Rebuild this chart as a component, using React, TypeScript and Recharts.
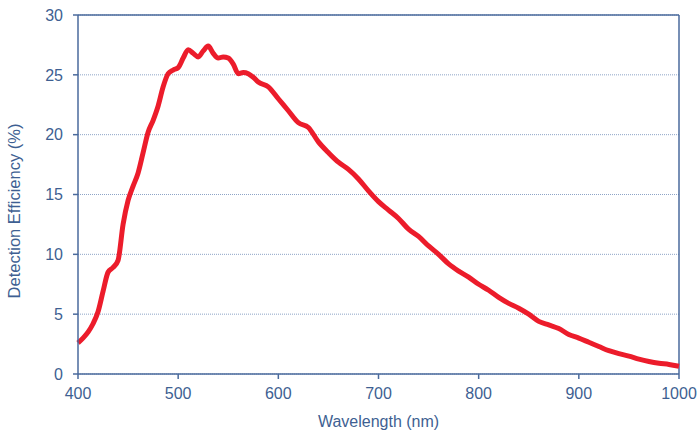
import React from 'react';
import { LineChart, Line, XAxis, YAxis, CartesianGrid, ReferenceLine } from 'recharts';

// values
const wavelengths = [
  400, 405, 410, 415, 420, 425, 430, 435, 440, 445, 450, 455, 460, 465, 470, 475, 480, 485, 490, 495,
  500, 505, 510, 515, 520, 525, 530, 535, 540, 545, 550, 555, 560, 565, 570, 575, 580, 590, 600, 610,
  620, 630, 640, 650, 660, 670, 680, 690, 700, 710, 720, 730, 740, 750, 760, 770, 780, 790, 800, 810,
  820, 830, 840, 850, 860, 870, 880, 890, 900, 910, 920, 930, 940, 950, 960, 970, 980, 990, 1000,
];
const efficiency = [
  2.6, 3.0, 3.5, 4.2, 5.2, 6.9, 8.5, 8.9, 9.5, 12.5, 14.5, 15.7, 16.8, 18.5, 20.2, 21.2, 22.4, 24.0, 25.1, 25.4,
  25.6, 26.4, 27.1, 26.8, 26.5, 27.0, 27.4, 26.8, 26.4, 26.5, 26.4, 25.9, 25.1, 25.2, 25.1, 24.8, 24.4, 24.0, 23.0, 22.0,
  21.0, 20.6, 19.4, 18.5, 17.7, 17.1, 16.3, 15.3, 14.4, 13.7, 13.0, 12.1, 11.5, 10.7, 10.0, 9.2, 8.6, 8.1, 7.5, 7.0,
  6.4, 5.9, 5.5, 5.0, 4.4, 4.1, 3.8, 3.3, 3.0, 2.65, 2.3, 1.95, 1.7, 1.5, 1.25, 1.05, 0.9, 0.8, 0.65,
];
const xTicks = [400, 500, 600, 700, 800, 900, 1000];
const yTicks = [0, 5, 10, 15, 20, 25, 30];

const data = wavelengths.map((w, i) => ({ wavelength: w, value: efficiency[i] }));

const axisColor = '#4a6a9c';
const textColor = '#3e5f92';
const font = '"Liberation Sans", Arial, sans-serif';

if (typeof document !== 'undefined') {
  document.body.style.margin = '0';
}

// y label sits a bit below the plot's middle in the original
function YLabel() {
  const cx = 14;
  const cy = 211;
  return (
    <text
      x={cx}
      y={cy}
      dy="0.36em"
      transform={`rotate(-90 ${cx} ${cy})`}
      textAnchor="middle"
      fill={textColor}
      fontSize={16.5}
      fontFamily={font}
    >
      Detection Efficiency (%)
    </text>
  );
}

export default function App() {
  const tickStyle = { fill: textColor, fontSize: 16, fontFamily: font };

  return (
    <div style={{ width: 697, height: 433, background: '#fff' }}>
      <LineChart width={697} height={433} data={data} margin={{ top: 15, right: 18, bottom: 0, left: 0 }}>
        <CartesianGrid vertical={false} stroke="#8ea4c6" strokeDasharray="1 1" strokeWidth={1} />
        <XAxis
          dataKey="wavelength"
          type="number"
          domain={[400, 1000]}
          ticks={xTicks}
          height={59}
          tickSize={5}
          tickMargin={9}
          stroke={axisColor}
          strokeWidth={1.5}
          tick={tickStyle}
          label={{
            value: 'Wavelength (nm)',
            position: 'insideBottom',
            offset: 6,
            style: { fill: textColor, fontSize: 16, fontFamily: font },
          }}
        />
        <YAxis
          type="number"
          domain={[0, 30]}
          ticks={yTicks}
          width={78}
          tickSize={5}
          tickMargin={10}
          stroke={axisColor}
          strokeWidth={1.5}
          tick={tickStyle}
          label={<YLabel />}
        />
        <ReferenceLine y={30} stroke={axisColor} strokeWidth={1.5} />
        <ReferenceLine x={1000} stroke={axisColor} strokeWidth={1.5} />
        <Line
          type="monotone"
          dataKey="value"
          stroke="#ec1c2b"
          strokeWidth={5}
          dot={false}
          isAnimationActive={false}
        />
      </LineChart>
    </div>
  );
}
